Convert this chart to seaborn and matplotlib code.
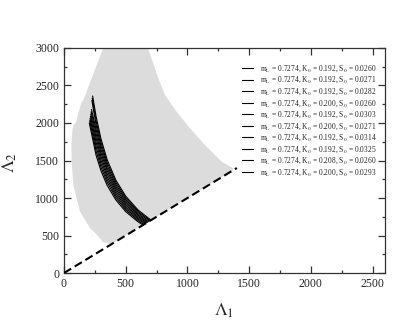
import matplotlib
matplotlib.use("Agg")
import matplotlib.pyplot as plt
from matplotlib.ticker import MultipleLocator
import numpy as np
import pandas as pd
import seaborn as sns

# gray region (envelope of all models), outline
gray_lam1 = [680, 764, 818, 912, 1020, 1142, 1277, 1375, 1365, 385, 318, 260, 210, 130,
             76, 62, 60, 68, 76, 95, 140, 157, 318]
gray_lam2 = [3000, 2596, 2373, 2151, 1929, 1707, 1484, 1392, 1365, 385, 410, 520, 600, 818,
             1173, 1484, 1700, 1900, 1975, 2000, 2270, 2307, 3000]

# black curves: tip, values on a shared Lambda_1 grid, end point on the diagonal
tip_lam1 = [232, 229, 226, 223, 220, 217, 214, 211, 208, 205]
tip_lam2 = [2360, 2330, 2300, 2180, 2150, 2120, 2090, 2060, 2030, 2000]
grid_lam1 = [260, 300, 350, 420, 500, 600]
grid_lam2 = [
    [2085, 1785, 1509, 1238, 1024, 840],
    [2028, 1738, 1471, 1209, 1001, 822],
    [1971, 1691, 1434, 1179, 978, 805],
    [1913, 1644, 1396, 1150, 955, 787],
    [1856, 1597, 1359, 1121, 932, 770],
    [1799, 1550, 1321, 1092, 909, 752],
    [1742, 1503, 1283, 1062, 886, 734],
    [1685, 1455, 1246, 1033, 863, 717],
    [1627, 1408, 1208, 1004, 841, 699],
    [1570, 1361, 1167, 974, 818, 682],
]
end_lam = [705, 698, 691, 683, 676, 669, 662, 655, 647, 640]

K0 = ["0.192", "0.192", "0.192", "0.200", "0.192", "0.200", "0.192", "0.192", "0.208", "0.200"]
S0 = ["0.0260", "0.0271", "0.0282", "0.0260", "0.0303", "0.0271", "0.0314", "0.0325", "0.0260", "0.0293"]
labels = [r"m$_{\rm L}$ = 0.7274, K$_0$ = %s, S$_0$ = %s" % (k, s) for k, s in zip(K0, S0)]

diag = [0, 1400]

rows = []
for i, lab in enumerate(labels):
    xs = [tip_lam1[i]] + grid_lam1 + [end_lam[i]]
    ys = [tip_lam2[i]] + grid_lam2[i] + [end_lam[i]]
    for j, (x, y) in enumerate(zip(xs, ys)):
        rows.append(dict(lam1=x, lam2=y, model=lab, order=j))
df = pd.DataFrame(rows)

sns.set_style("ticks")
plt.rcParams["font.family"] = ["Liberation Serif", "DejaVu Serif"]
plt.rcParams["mathtext.fontset"] = "stix"

fig = plt.figure(figsize=(4.15, 3.21), dpi=100)
ax = fig.add_axes([0.1542, 0.1495, 0.7735, 0.701])

ax.fill(gray_lam1, gray_lam2, color="#dcdcdc", lw=0, zorder=1)
sns.lineplot(data=df, x="lam1", y="lam2", hue="model", palette=["black"] * 10,
             sort=False, estimator=None, lw=0.8, ax=ax, zorder=3)
ax.plot(diag, diag, color="black", lw=1.5, linestyle=(0, (4, 2)), zorder=4)

ax.set_xlim(0, 2600)
ax.set_ylim(0, 3000)
ax.xaxis.set_major_locator(MultipleLocator(500))
ax.xaxis.set_minor_locator(MultipleLocator(250))
ax.yaxis.set_major_locator(MultipleLocator(500))
ax.yaxis.set_minor_locator(MultipleLocator(250))
ax.tick_params(which="both", direction="in", top=True, right=True, labelsize=8.5,
               color="#333333", width=0.9)
ax.tick_params(which="major", length=5)
ax.tick_params(which="minor", length=2.5)
for sp in ax.spines.values():
    sp.set_color("#333333")
    sp.set_linewidth(0.9)

ax.set_xlabel(r"$\Lambda_1$", fontsize=13)
ax.set_ylabel(r"$\Lambda_2$", fontsize=13)
ax.xaxis.set_label_coords(0.50, -0.125)
ax.yaxis.set_label_coords(-0.14, 0.49)

handles, labs = ax.get_legend_handles_labels()
ax.legend(handles, labs, loc="upper left", bbox_to_anchor=(241.7 / 415, 1 - 63.5 / 321),
          bbox_transform=fig.transFigure, frameon=False, fontsize=5.45,
          handlelength=1.5, handletextpad=0.9, labelspacing=0.15,
          borderpad=0, borderaxespad=0)

fig.savefig("out.png", dpi=100)
